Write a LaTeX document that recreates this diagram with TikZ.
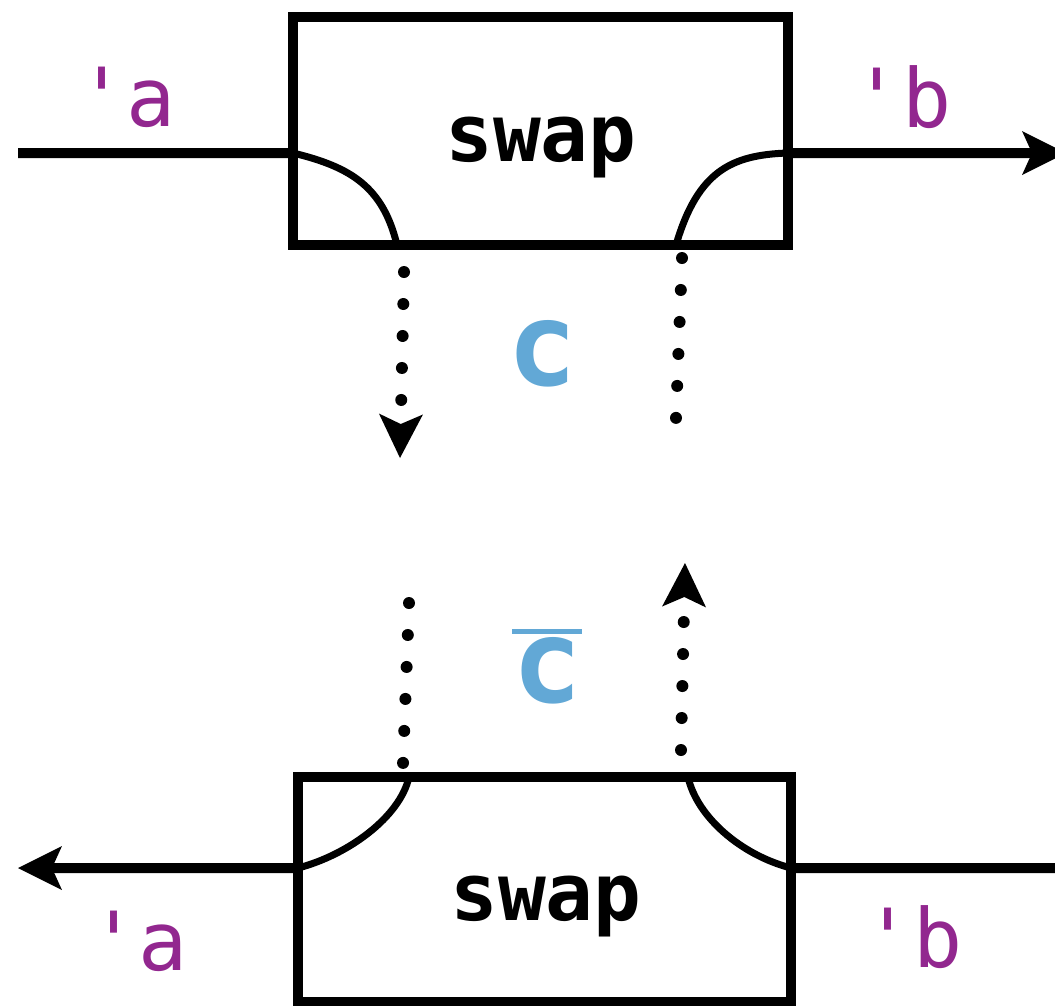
\documentclass[tikz,border=0pt]{standalone}
\usepackage{fontspec}
\newfontfamily\dvmono{DejaVu Sans Mono}[Ligatures=TeXOff]
\usetikzlibrary{arrows.meta,calc}
\definecolor{labpurple}{HTML}{92278F}
\definecolor{chanblue}{HTML}{62A8D6}

\begin{document}
\begin{tikzpicture}[x=0.1mm,y=-0.1mm,
  swapbox/.style={draw,line width=1mm,inner sep=0pt,outer sep=0pt},
  boxtext/.style={font=\dvmono\bfseries\fontsize{22.6pt}{27pt}\selectfont,anchor=base,inner sep=0pt},
  wirelab/.style={font=\dvmono\fontsize{23.2pt}{28pt}\selectfont,text=labpurple,anchor=base,inner sep=0pt},
  chanlab/.style={font=\dvmono\bfseries\fontsize{33pt}{40pt}\selectfont,text=chanblue,anchor=base,inner sep=0pt},
  wire/.style={line width=1mm},
  tip/.style={-{Stealth[length=4.4mm,width=4.4mm,inset=1mm,line width=0pt]}},
  bendwire/.style={line width=0.7mm},
  dots/.style={line width=1.2mm,line cap=round,dash pattern=on 0pt off 3.2mm},
]
\useasboundingbox (0,0) rectangle (1055,1006);

% the two swap boxes
\node[swapbox,minimum width=49.45mm,minimum height=22.8mm] (swapT) at (540.25,131) {};
\node[swapbox,minimum width=49.3mm,minimum height=22.5mm] (swapB) at (544.5,889.5) {};
\node[boxtext] (swapTtxt) at (541,161) {swap};
\node[boxtext] (swapBtxt) at (546,920) {swap};

% ports on the boxes
\coordinate (tIn)  at ([yshift=-2.2mm]swapT.west);
\coordinate (tOut) at ([yshift=-2.2mm]swapT.east);
\coordinate (tDn)  at (397,245);
\coordinate (tUp)  at (676,245);
\coordinate (bOut) at ([yshift=2.15mm]swapB.west);
\coordinate (bIn)  at ([yshift=2.15mm]swapB.east);
\coordinate (bUpL) at (409,777);
\coordinate (bUpR) at (688,777);

% outer wires
\coordinate (srcA) at (18,153);
\coordinate (dstB) at (1066,153);
\coordinate (srcB) at (1070,868);
\coordinate (dstA) at (18,868);
\draw[wire] (srcA) -- (tIn);
\draw[wire,tip] (tOut) -- (dstB);
\draw[wire] (srcB) -- (bIn);
\draw[wire,tip] (bOut) -- (dstA);

% bends inside the boxes
\draw[bendwire] (tIn) .. controls +(58,14) and +(-14,-58) .. (tDn);
\draw[bendwire] (tOut) .. controls +(-55,2) and +(22,-75) .. (tUp);
\draw[bendwire] (bOut) .. controls +(50,-13) and +(-9,40) .. (bUpL);
\draw[bendwire] (bIn) .. controls +(-50,-13) and +(9,40) .. (bUpR);

% channel c between the boxes
\coordinate (c1s) at (404,272);
\coordinate (c1e) at (400,458);
\coordinate (c2s) at (682,258);
\coordinate (c2e) at (676,418);
\coordinate (c3s) at (409,603);
\coordinate (c3e) at (403,764);
\coordinate (c4s) at (681,750);
\coordinate (c4e) at (685,563);
\draw[dots,tip] (c1s) -- (c1e);
\draw[dots] (c2s) -- (c2e);
\draw[dots] (c3s) -- (c3e);
\draw[dots,tip] (c4s) -- (c4e);

% labels
\node[wirelab] (labTa) at (127,126) {'a};
\node[wirelab] (labTb) at (902,127) {'b};
\node[wirelab] (labBa) at (139,970) {'a};
\node[wirelab] (labBb) at (913,967) {'b};
\node[chanlab] (chanT) at (542,385) {c};
\node[chanlab] (chanB) at (547,702) {\vbox{\hrule height 0.5mm\kern 0.25mm\hbox{c}}};
\end{tikzpicture}
\end{document}
